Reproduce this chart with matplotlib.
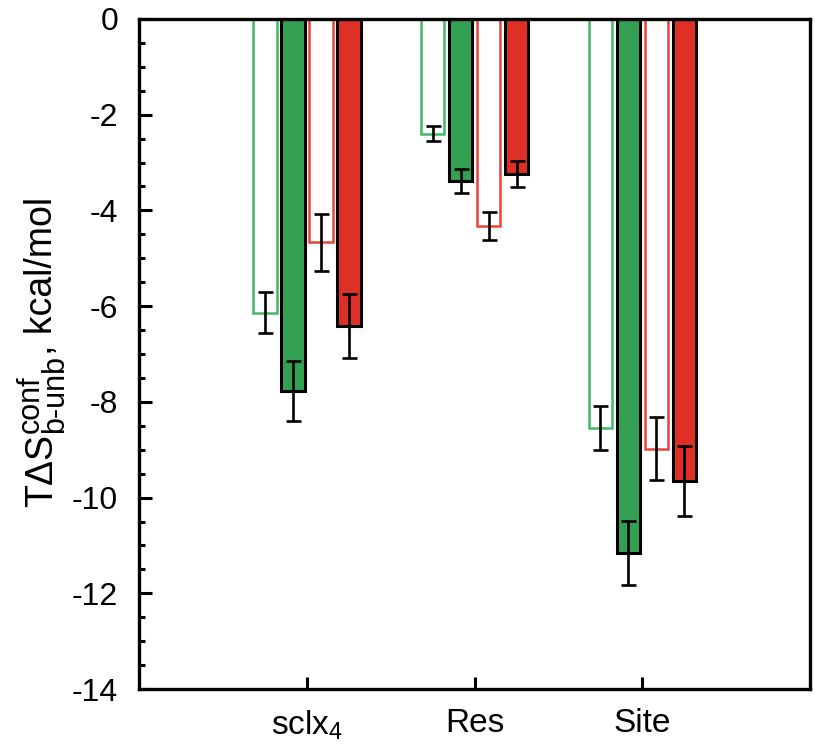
import matplotlib
matplotlib.use("Agg")
import matplotlib.pyplot as plt
import numpy as np
from matplotlib.ticker import MultipleLocator

plt.rcParams['font.family'] = ['Liberation Sans', 'DejaVu Sans']
plt.rcParams['mathtext.fontset'] = 'custom'
plt.rcParams['mathtext.rm'] = 'Liberation Sans'
plt.rcParams['mathtext.it'] = 'Liberation Sans'
plt.rcParams['axes.unicode_minus'] = False

categories = ["sclx$_4$", "Res", "Site"]
open_green = [-6.14, -2.40, -8.54]
open_green_err = [0.43, 0.16, 0.46]
filled_green = [-7.77, -3.38, -11.15]
filled_green_err = [0.62, 0.25, 0.67]
open_red = [-4.67, -4.33, -8.98]
open_red_err = [0.59, 0.29, 0.66]
filled_red = [-6.41, -3.24, -9.65]
filled_red_err = [0.67, 0.27, 0.73]

GREEN = "#33a052"
GREEN_L = "#45b865"
RED = "#df3028"
RED_L = "#e8443c"

W, H = 815, 747
fig = plt.figure(figsize=(W / 100, H / 100), dpi=100)
ax = fig.add_axes([0.1706, 0.0776, 0.8233, 0.897])

x = np.arange(1, len(categories) + 1)
step = 0.167
w = 0.14
ekw = dict(ecolor="black", elinewidth=1.9, capsize=5.4, capthick=1.9)

ax.bar(x - 1.5 * step, open_green, w, facecolor="white", edgecolor=GREEN_L, linewidth=1.8,
       yerr=open_green_err, error_kw=ekw, zorder=2)
ax.bar(x - 0.5 * step, filled_green, w, facecolor=GREEN, edgecolor="black", linewidth=2.2,
       yerr=filled_green_err, error_kw=ekw, zorder=2)
ax.bar(x + 0.5 * step, open_red, w, facecolor="white", edgecolor=RED_L, linewidth=1.8,
       yerr=open_red_err, error_kw=ekw, zorder=2)
ax.bar(x + 1.5 * step, filled_red, w, facecolor=RED, edgecolor="black", linewidth=2.2,
       yerr=filled_red_err, error_kw=ekw, zorder=2)

ax.set_xlim(0, 4)
ax.set_ylim(-14, 0)
ax.set_xticks(x)
ax.set_xticklabels(categories, fontsize=24)
ax.yaxis.set_major_locator(MultipleLocator(2))
ax.yaxis.set_minor_locator(MultipleLocator(0.5))
ax.tick_params(axis='y', which='major', direction='in', length=9, width=2.2, labelsize=23, pad=15,
               right=False)
ax.tick_params(axis='y', which='minor', direction='in', length=4, width=2.2, right=False)
ax.tick_params(axis='x', which='major', direction='in', length=9, width=2.2, pad=14, top=False)
for s in ax.spines.values():
    s.set_linewidth(2.4)

# y label built from pieces so that the scripts are large, as in the reference
renderer = fig.canvas.get_renderer()
main_fs = 27
scr_fs = 22
base_x = 52      # pixel x of the baseline
start_y = 507    # pixel y where the label starts (bottom)

def width_of(s, fs):
    t = fig.text(0, 0, s, fontsize=fs)
    wpx = t.get_window_extent(renderer).width
    t.remove()
    return wpx

def put(s, fs, px, py, va='baseline', ls=1.2):
    fig.text(px / W, 1 - py / H, s, fontsize=fs, rotation=90, rotation_mode='anchor',
             ha='left', va=va, linespacing=ls)

y = start_y
p1 = "T\u0394S"
put(p1, main_fs, base_x, y)
y -= width_of(p1, main_fs) + 1
put("conf\nb-unb", scr_fs, base_x - 9, y, va='center', ls=0.78)
y -= max(width_of("conf", scr_fs), width_of("b-unb", scr_fs))
put(", kcal/mol", main_fs, base_x, y)

fig.savefig("out.png", dpi=100)
